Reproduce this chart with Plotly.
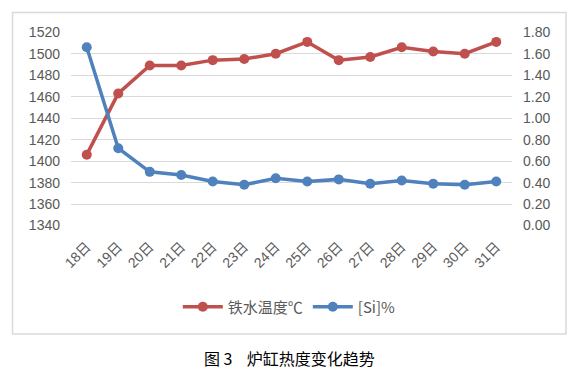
import plotly.graph_objects as go

categories = ["18日", "19日", "20日", "21日", "22日", "23日", "24日", "25日",
              "26日", "27日", "28日", "29日", "30日", "31日"]
temperature = [1406, 1463, 1489, 1489, 1494, 1495, 1500, 1511, 1494, 1497, 1506, 1502, 1500, 1511]
si_percent = [1.66, 0.72, 0.50, 0.47, 0.41, 0.38, 0.44, 0.41, 0.43, 0.39, 0.42, 0.39, 0.38, 0.41]
temp_name = "铁水温度℃"
si_name = "[Si]%"
caption = "图 3    炉缸热度变化趋势"

RED = "#C0504D"
BLUE = "#4F81BD"
GRID = "#D9D9D9"
TXT = "#595959"
FONT = "Liberation Sans, Noto Sans CJK SC, sans-serif"

fig = go.Figure()
fig.add_trace(go.Scatter(x=categories, y=temperature, name=temp_name, mode="lines+markers",
                         line=dict(color=RED, width=3.5), marker=dict(color=RED, size=10),
                         yaxis="y"))
fig.add_trace(go.Scatter(x=categories, y=si_percent, name=si_name, mode="lines+markers",
                         line=dict(color=BLUE, width=3.5), marker=dict(color=BLUE, size=10),
                         yaxis="y2"))

L, R, T, B = 71, 62, 32, 152
fig.update_layout(
    width=574, height=378,
    margin=dict(l=L, r=R, t=T, b=B, autoexpand=False),
    paper_bgcolor="white", plot_bgcolor="white",
    font=dict(family=FONT, size=14, color=TXT),
    showlegend=True,
    legend=dict(orientation="h", x=0.495, xanchor="center", y=-0.4175, yanchor="middle",
                font=dict(size=15, color=TXT, family="Noto Sans CJK SC, Liberation Sans"),
                itemwidth=40, tracegroupgap=0, bgcolor="rgba(0,0,0,0)"),
    xaxis=dict(type="category", range=[-0.5, 13.5], tickangle=-45, showgrid=False, showline=False,
               zeroline=False, automargin=False,
               tickfont=dict(size=14, color=TXT, family="Liberation Sans, Noto Sans CJK SC"),
               ticks="", ticklabelstandoff=9),
    yaxis=dict(range=[1339.6, 1520.2], dtick=20, tick0=1340, showgrid=True, gridcolor=GRID, gridwidth=1,
               zeroline=False, showline=False, ticks="", ticklabelstandoff=10, automargin=False,
               tickfont=dict(size=14, color=TXT)),
    yaxis2=dict(range=[-0.004, 1.802], dtick=0.2, tick0=0, tickformat=".2f", overlaying="y", side="right",
                showgrid=False, zeroline=False, showline=False, ticks="", ticklabelstandoff=10,
                automargin=False, tickfont=dict(size=14, color=TXT)),
)

# outer chart border
fig.add_shape(type="rect", xref="paper", yref="paper",
              x0=(12.5 - L) / 441, x1=(566 - L) / 441,
              y0=(226 - 334) / 194, y1=(226 - 12.5) / 194,
              line=dict(color=GRID, width=1.5), fillcolor="rgba(0,0,0,0)", layer="above")

fig.add_annotation(text=caption, xref="paper", yref="paper",
                   x=(289 - L) / 441, y=(226 - 358) / 194, xanchor="center", yanchor="middle",
                   showarrow=False, font=dict(size=16, color="#000000", family="Noto Sans CJK SC"))

fig.write_html("out.html", config={"displayModeBar": False},
               post_script="document.body.style.margin='0';document.body.style.overflow='hidden';")
